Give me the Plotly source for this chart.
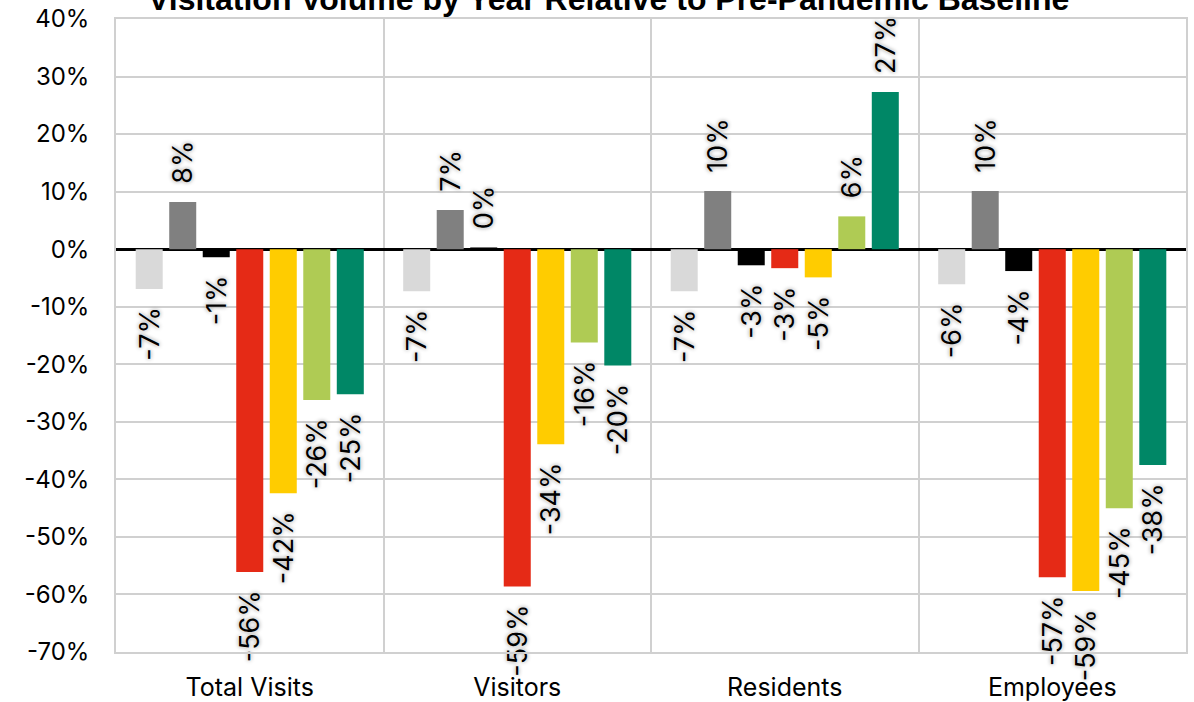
import plotly.graph_objects as go

# Visitation volume relative to the pre-pandemic baseline (%)
categories = ["Total Visits", "Visitors", "Residents", "Employees"]
series_names = ["2017", "2018", "2019", "2020", "2021", "2022", "2023"]
series_colors = ["#D9D9D9", "#808080", "#000000", "#E52A16", "#FFCC00", "#AFCB54", "#008766"]
series_values = [
    [-6.9, -7.3, -7.3, -6.1],
    [8.2, 6.8, 10.1, 10.1],
    [-1.4, 0.3, -2.8, -3.8],
    [-56.1, -58.6, -3.3, -57.0],
    [-42.4, -33.9, -4.9, -59.4],
    [-26.2, -16.2, 5.7, -45.0],
    [-25.2, -20.2, 27.3, -37.5],
]

y_ticks = list(range(-70, 41, 10))
y_ticktext = [f"{v}%" for v in y_ticks]

LABEL_FONT = "Inter, Roboto, Arial, sans-serif"
PAD = "\u00a0\u00a0"


def bar_label(v):
    txt = f"{round(v):.0f}%"
    # pad on the side facing the bar so labels sit clear of the bar end
    return PAD + txt if v >= 0 else txt + PAD


fig = go.Figure()
for name, color, vals in zip(series_names, series_colors, series_values):
    fig.add_trace(go.Bar(
        name=name,
        x=categories,
        y=vals,
        marker=dict(color=color, line=dict(width=0)),
        text=[bar_label(v) for v in vals],
        textposition="outside",
        textangle=-90,
        textfont=dict(family=LABEL_FONT, size=27, color="#000000",
                      shadow="0px 0px 2px #FFFFFF, 0px 0px 4px #808080"),
        constraintext="none",
        cliponaxis=False,
        hoverinfo="skip",
    ))

fig.update_layout(
    width=1194,
    height=702,
    margin=dict(l=116, r=8, t=19, b=50, autoexpand=False),
    paper_bgcolor="white",
    plot_bgcolor="white",
    barmode="group",
    bargap=0.123,
    bargroupgap=0.194,
    showlegend=False,
    font=dict(family=LABEL_FONT, size=24, color="#000000"),
    annotations=[dict(
        text="<b>Visitation Volume by Year Relative to Pre-Pandemic Baseline</b>",
        xref="paper", yref="paper", x=0.46, y=1.0,
        xanchor="center", yanchor="bottom", yshift=0,
        showarrow=False,
        font=dict(family="Liberation Sans, Arial, sans-serif", size=32, color="#000000"),
    )],
)

fig.update_xaxes(
    type="category",
    automargin=False,
    tickson="boundaries",
    showgrid=True,
    gridcolor="#D0D0D0",
    gridwidth=1.5,
    showline=True,
    linecolor="#D0D0D0",
    linewidth=1.5,
    mirror=True,
    ticks="",
    ticklabelstandoff=12,
    tickfont=dict(family=LABEL_FONT, size=25, color="#000000"),
)

fig.update_yaxes(
    range=[-70, 40],
    automargin=False,
    tickmode="array",
    tickvals=y_ticks,
    ticktext=y_ticktext,
    showgrid=True,
    gridcolor="#D0D0D0",
    gridwidth=1.5,
    zeroline=True,
    zerolinecolor="#000000",
    zerolinewidth=3,
    showline=True,
    linecolor="#D0D0D0",
    linewidth=1.5,
    mirror=True,
    ticks="",
    ticklabelstandoff=20,
    tickfont=dict(family=LABEL_FONT, size=24, color="#000000"),
)

fig.write_html("out.html")
